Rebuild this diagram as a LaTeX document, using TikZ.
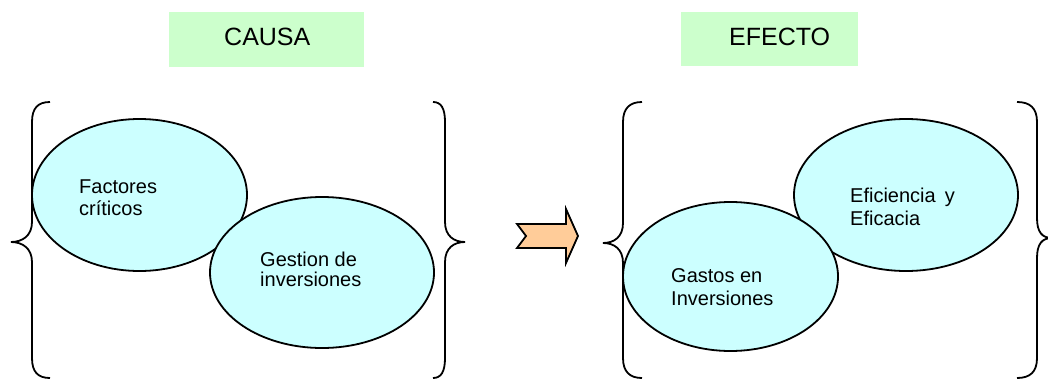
\documentclass[tikz,border=0pt]{standalone}
\usepackage{fontspec}
\setmainfont{Liberation Sans}
\definecolor{bubble}{HTML}{CCFFFF}
\definecolor{titlegreen}{HTML}{CCFFCC}
\definecolor{arroworange}{HTML}{FFCC99}
\begin{document}
\begin{tikzpicture}[x=1pt,y=-1pt,
  bubble/.style={draw=black,line width=1.8pt,fill=bubble},
  brace/.style={draw=black,line width=1.8pt},
  titlebox/.style={fill=titlegreen},
  label/.style={anchor=base west,inner sep=0pt,align=left},
  title/.style={anchor=base west,inner sep=0pt,font=\fontsize{25}{28}\selectfont}]
\useasboundingbox (0,0) rectangle (1048,380);
% title boxes
\fill[titlebox] (169,12) rectangle (364,67);
\fill[titlebox] (681,12) rectangle (858,66);
\node[title] (causa) at (224,45.7) {CAUSA};
\node[title] (efecto) at (729,45.7) {EFECTO};
% braces, left group
\draw[brace] (50,102) .. controls (38,102) and (32,108) .. (32,122) -- (32,222)
  .. controls (32,236) and (22,242) .. (11,242) .. controls (22,242) and (32,248) .. (32,262)
  -- (32,358) .. controls (32,372) and (38,378) .. (50,378);
\draw[brace] (433,102) .. controls (441,102) and (445,108) .. (445,122) -- (445,222)
  .. controls (445,236) and (454,242) .. (465,242) .. controls (454,242) and (445,248) .. (445,262)
  -- (445,358) .. controls (445,372) and (441,378) .. (433,378);
% braces, right group
\draw[brace] (642,102) .. controls (630,102) and (623,108) .. (623,122) -- (623,223)
  .. controls (623,237) and (614,243) .. (603,243) .. controls (614,243) and (623,249) .. (623,263)
  -- (623,358) .. controls (623,372) and (630,378) .. (642,378);
\draw[brace] (1017,102) .. controls (1030,102) and (1037,108) .. (1037,122) -- (1037,218)
  .. controls (1037,232) and (1042,238) .. (1052,238) .. controls (1042,238) and (1037,244) .. (1037,258)
  -- (1037,358) .. controls (1037,372) and (1030,378) .. (1017,378);
% ellipses
\draw[bubble] (139.5,195) ellipse [x radius=107.5, y radius=76];
\draw[bubble] (322,272.5) ellipse [x radius=112, y radius=75.5];
\draw[bubble] (906,195) ellipse [x radius=112, y radius=76];
\draw[bubble] (730.5,276.5) ellipse [x radius=107.5, y radius=74.5];
% texts (base anchor = baseline of the last line)
\node[label,font=\fontsize{20}{22}\selectfont] (fc) at (79,215.7) {Factores\\críticos};
\node[label,font=\fontsize{20}{20}\selectfont] (gi) at (260,286.7) {Gestion de\\inversiones};
\node[label,font=\fontsize{20}{23}\selectfont] (ee) at (850,225) {Eficiencia\hspace{0.45em}y\\Eficacia};
\node[label,font=\fontsize{20}{23}\selectfont] (gei) at (671,305) {Gastos en\\Inversiones};
% arrow
\filldraw[fill=arroworange,draw=black,line width=1.8pt,line join=miter]
  (517,224) -- (566,224) -- (566,209) -- (578,236) -- (566,263) -- (566,248) -- (517,248) -- (526,236) -- cycle;
\end{tikzpicture}
\end{document}
